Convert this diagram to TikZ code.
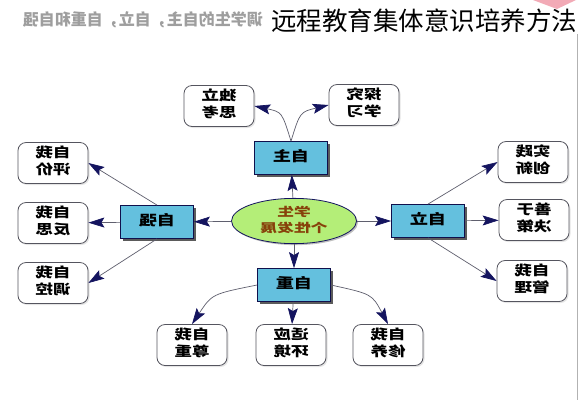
\documentclass[tikz,border=0pt]{standalone}
\usepackage{fontspec}
\setmainfont{Noto Sans CJK SC}
\usepackage{graphicx}
\usepackage{tikz}
\usetikzlibrary{shapes.geometric}
\usetikzlibrary{arrows.meta,shadows}
\definecolor{boxblue}{RGB}{100,192,222}
\definecolor{ellgreen}{RGB}{180,238,120}
\definecolor{navy}{RGB}{20,20,95}
\definecolor{linegray}{RGB}{95,95,110}
\definecolor{redbrown}{RGB}{135,65,10}
\definecolor{leafgray}{RGB}{85,85,95}
\definecolor{wmpink}{RGB}{242,170,182}
\newcommand{\flip}[2][1.3]{\scalebox{-#1}[1]{\begin{tabular}{@{}c@{}}#2\end{tabular}}}

\begin{document}
\begin{tikzpicture}[x=1pt,y=-1pt,
                every node/.style = {inner sep=0pt},
                hub/.style = {draw=navy, fill=ellgreen, ellipse, line width=.8pt,
                        minimum width=125pt, minimum height=40pt, text=redbrown,
                        font=\fontsize{12}{16}\selectfont\bfseries,
                        drop shadow={shadow xshift=1.5pt,shadow yshift=-1.5pt,opacity=.5}},
                part/.style = {draw=navy!80!black, fill=boxblue, line width=.8pt,
                        minimum width=73pt, minimum height=33pt,
                        font=\fontsize{14}{16}\selectfont\bfseries,
                        drop shadow={shadow xshift=2.5pt,shadow yshift=-2.5pt,fill=black!80,opacity=.8}},
                leaf/.style = {draw=leafgray, fill=white, rounded corners=8pt, line width=.8pt,
                        minimum width=70pt, minimum height=41pt,
                        font=\fontsize{13.5}{17}\selectfont\bfseries,
                        drop shadow={shadow xshift=1.5pt,shadow yshift=-1.5pt,opacity=.2}},
                link/.style = {draw=linegray, line width=.7pt,
                        -{Stealth[length=16pt,width=10pt,inset=3pt,color=navy]}}]
    \fill[white] (0,0) rectangle (580,400);
    \useasboundingbox (0,0) rectangle (580,400);
    % watermark and heading
    \fill[wmpink] (533,0) -- (576,0) -- (557,9) -- cycle;
    \draw[gray!60, line width=.8pt] (577,34) -- (577,400);
    \node[anchor=east, text=black!38, font=\fontsize{16}{18}\selectfont\bfseries] (H) at (263,21)
        {\flip[1]{调学生的自主，自立，自重和自强}};
    \node[anchor=west, font=\fontsize{25.5}{28}\selectfont] (Ti) at (271,21) {远程教育集体意识培养方法};
    % centre and four parts
    \node[hub] (C) at (294,221) {\flip[1.4]{学生\\个性发展}};
    \node[part] (T) at (291,158) {\flip[1.3]{自主}};
    \node[part] (R) at (428,221) {\flip[1.3]{自立}};
    \node[part] (L) at (157,222) {\flip[1.3]{自强}};
    \node[part] (B) at (294,285) {\flip[1.3]{自重}};
    % leaves
    \node[leaf] (T1) at (219,106) {\flip{独立\\思考}};
    \node[leaf] (T2) at (364,105) {\flip{探究\\学习}};
    \node[leaf] (L1) at (53,163) {\flip{自我\\评价}};
    \node[leaf] (L2) at (53,223) {\flip{自我\\反思}};
    \node[leaf] (L3) at (53,283) {\flip{自我\\调控}};
    \node[leaf] (R1) at (533,162) {\flip{实践\\创新}};
    \node[leaf] (R2) at (534,220) {\flip{善于\\决策}};
    \node[leaf] (R3) at (532,281) {\flip{自我\\管理}};
    \node[leaf] (B1) at (192,345) {\flip{自我\\尊重}};
    \node[leaf] (B2) at (291,345) {\flip{适应\\环境}};
    \node[leaf] (B3) at (388,345) {\flip{自我\\修养}};
    % connectors
    \draw[link] (C) -- (T);
    \draw[link] (C) -- (R);
    \draw[link] (C) -- (L);
    \draw[link] (C) -- (B);
    \draw[link] (T.north) .. controls (282,112) .. (T1.east);
    \draw[link] (T.north) .. controls (300,112) .. (T2.west);
    \draw[link] (L.north) -- (L1.east);
    \draw[link] (L) -- (L2);
    \draw[link] (L.south) -- (L3.east);
    \draw[link] (R.north) -- (R1.west);
    \draw[link] (R) -- (R2);
    \draw[link] (R.south) -- (R3.west);
    \draw[link] (B.west) .. controls (212,294) .. (B1.north);
    \draw[link] (B) -- (B2);
    \draw[link] (B.east) .. controls (372,294) .. (B3.north);
\end{tikzpicture}
\end{document}
